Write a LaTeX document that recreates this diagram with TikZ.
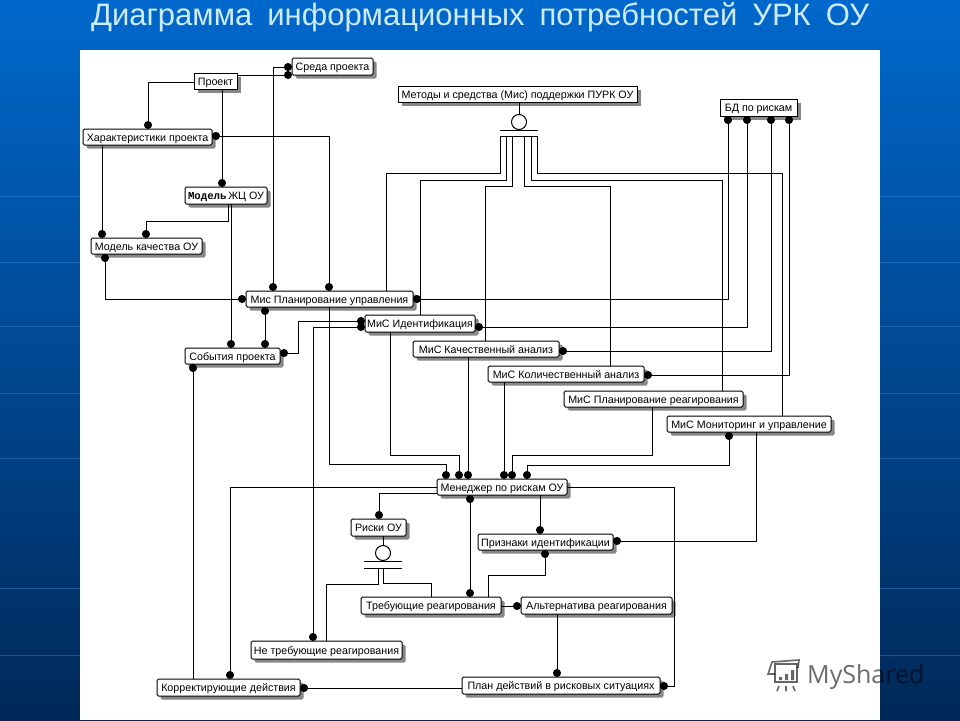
\documentclass[tikz,border=0pt]{standalone}
\usepackage{fontspec}
\setmainfont{Liberation Sans}
\newfontfamily\monofam{Liberation Mono}
\newfontfamily\logofam{Open Sans}
\usepackage{xcolor}
\usetikzlibrary{arrows.meta,shadows}
\definecolor{slidetop}{RGB}{0,104,204}
\definecolor{slidemid}{RGB}{0,78,158}
\definecolor{slidelow}{RGB}{0,40,88}
\definecolor{stripe}{RGB}{70,140,220}
\definecolor{titletext}{RGB}{205,235,250}
\definecolor{hatch}{RGB}{135,135,135}
\tikzset{
  entbox/.style={draw,fill=white,line width=1pt,inner sep=0pt,outer sep=0pt,
    text height=9pt,text depth=1pt,
    font=\fontsize{10.7}{12}\selectfont,
    general shadow={shadow xshift=3.5pt,shadow yshift=-3.5pt,fill=hatch}},
  roundbox/.style={entbox,rounded corners=1.5pt},
  rel/.style={line width=1pt},
  reldot/.style={rel,-{Circle[length=8pt]}},
  relboth/.style={rel,{Circle[length=8pt]}-{Circle[length=8pt]}},
  relbar/.style={line width=1pt},
  ringnode/.style={draw,circle,line width=1pt,fill=white,minimum size=15pt,inner sep=0pt,outer sep=0pt},
  stripeline/.style={stripe,line width=1pt,opacity=.4}
}
\begin{document}
\begin{tikzpicture}[x=1pt,y=-1pt]
  \useasboundingbox (0,0) rectangle (960,720);
  % slide
  \shade[top color=slidetop,middle color=slidemid,bottom color=slidelow] (0,0) rectangle (960,720);
  \foreach \ypos in {196,262,326,393,458,588,655} {
    \draw[stripeline] (0,\ypos) -- (80,\ypos);
    \draw[stripeline] (880,\ypos) -- (960,\ypos);
  }
  \fill[white] (80,50) rectangle (880,720);
  \node[anchor=base,inner sep=0pt,text=titletext,font=\fontsize{31}{34}\selectfont] (slidetitle) at (480,25) {\spaceskip=15pt Диаграмма информационных потребностей УРК ОУ};

  % entities
  \node[roundbox,minimum width=81,minimum height=17] (env) at (332.5,66.5) {Среда проекта};
  \node[entbox,minimum width=43,minimum height=16] (project) at (215.5,81) {Проект};
  \node[roundbox,minimum width=129,minimum height=16] (traits) at (147.5,137) {Характеристики проекта};
  \node[roundbox,minimum width=82,minimum height=17] (lifecycle) at (226,195.5) {{\monofam\bfseries Модель}\,ЖЦ ОУ};
  \node[roundbox,minimum width=111,minimum height=16] (quality) at (146.5,246) {Модель качества ОУ};
  \node[roundbox,minimum width=167,minimum height=16] (mplan) at (329.5,299) {Мис Планирование управления};
  \node[roundbox,minimum width=95,minimum height=16] (events) at (232.5,356) {События проекта};
  \node[roundbox,minimum width=110,minimum height=17] (mident) at (420,323.5) {МиС Идентификация};
  \node[entbox,minimum width=239,minimum height=16] (methods) at (517.5,94) {Методы и средства (Мис) поддержки ПУРК ОУ};
  \node[entbox,minimum width=77,minimum height=17] (riskdb) at (758.5,107.5) {БД по рискам};
  \node[roundbox,minimum width=146,minimum height=16] (mqual) at (486,349) {МиС Качественный анализ};
  \node[roundbox,minimum width=156,minimum height=16] (mquant) at (566,374) {МиС Количественный анализ};
  \node[roundbox,minimum width=179,minimum height=16] (mresp) at (653.5,399) {МиС Планирование реагирования};
  \node[roundbox,minimum width=164,minimum height=16] (mmon) at (749,424) {МиС Мониторинг и управление};
  \node[roundbox,minimum width=130,minimum height=16] (manager) at (502,487) {Менеджер по рискам ОУ};
  \node[roundbox,minimum width=55,minimum height=17] (risks) at (378.5,527.5) {Риски ОУ};
  \node[roundbox,minimum width=135,minimum height=16] (signs) at (545.5,542) {Признаки идентификации};
  \node[roundbox,minimum width=140,minimum height=17] (needresp) at (431,605.5) {Требующие реагирования};
  \node[roundbox,minimum width=151,minimum height=17] (altresp) at (596.5,605.5) {Альтернатива реагирования};
  \node[roundbox,minimum width=151,minimum height=18] (noresp) at (326.5,650) {Не требующие реагирования};
  \node[roundbox,minimum width=143,minimum height=17] (fixes) at (228.5,687.5) {Корректирующие действия};
  \node[roundbox,minimum width=198,minimum height=17] (plan) at (561,685.5) {План действий в рисковых ситуациях};

  % subtype rings
  \node[ringnode] (methring) at (519,122) {};
  \coordinate (methbar) at (519,136);
  \node[ringnode] (riskring) at (383,553) {};
  \coordinate (riskbar) at (383,568);
  \draw[rel] (methods.south -| methring.north) -- (methring.north);
  \draw[relbar] ([shift={(-19,-5.5)}]methbar) -- ([shift={(19,-5.5)}]methbar);
  \draw[relbar] ([xshift=-19]methbar) -- ([xshift=19]methbar);
  \draw[rel] (risks.south -| riskring.north) -- (riskring.north);
  \draw[relbar] ([shift={(-19,-7)}]riskbar) -- ([shift={(19,-7)}]riskbar);
  \draw[relbar] ([xshift=-19]riskbar) -- ([xshift=19]riskbar);

  % connectors, upper part
  \draw[reldot] (project.east |- 0,75) -- (env.west |- 0,75);
  \draw[reldot] (project.west |- 0,82) -| (traits.north -| 148,0);
  \draw[reldot] (project.south -| 222,0) -- (lifecycle.north -| 222,0);
  \draw[relboth] (traits.east |- 0,136) -| (mplan.north -| 329,0);
  \draw[reldot] (traits.south -| 102,0) -- (quality.north -| 102,0);
  \draw[reldot] (lifecycle.south -| 228,0) |- (146,221) -- (quality.north -| 146,0);
  \draw[reldot] (lifecycle.south -| 231,0) -- (events.north -| 231,0);
  \draw[relboth] (quality.south -| 105,0) |- (mplan.west |- 0,299);
  \draw[relboth] (mplan.south -| 265,0) -- (events.north -| 265,0);
  \draw[relboth] (mplan.north -| 273,0) |- (env.west |- 0,67);
  \draw[relboth] (events.east |- 0,353) -| (298,321) -- (mident.west |- 0,321);
  \draw[relboth] (mident.west |- 0,327) -| (noresp.north -| 313,0);
  \draw[rel,{Circle[length=8pt]}-] (events.south -| 193,0) -- (fixes.north -| 193,0);

  % connectors, subtypes of the methods
  \draw[rel] (methbar -| 500.5,0) |- (386,173) -- (mplan.north -| 386,0);
  \draw[rel] (methbar -| 506.5,0) |- (420,180) -- (mident.north -| 420,0);
  \draw[rel] (methbar -| 512.5,0) |- (485,186) -- (mqual.north -| 485,0);
  \draw[rel] (methbar -| 524.5,0) |- (610,186) -- (mquant.north -| 610,0);
  \draw[rel] (methbar -| 531.5,0) |- (722,180) -- (mresp.north -| 722,0);
  \draw[rel] (methbar -| 537.5,0) |- (782,173) -- (mmon.north -| 782,0);

  % connectors, risk database
  \draw[relboth] (riskdb.south -| 728,0) |- (mplan.east |- 0,299);
  \draw[relboth] (riskdb.south -| 747,0) |- (mident.east |- 0,327);
  \draw[relboth] (riskdb.south -| 771,0) |- (mqual.east |- 0,351);
  \draw[relboth] (riskdb.south -| 789,0) |- (mquant.east |- 0,375);

  % connectors to the manager
  \draw[reldot] (mplan.south -| 329,0) |- (446,464) -- (manager.north -| 446,0);
  \draw[reldot] (mident.south -| 390,0) |- (459,455) -- (manager.north -| 459,0);
  \draw[reldot] (mqual.south -| 468,0) -- (manager.north -| 468,0);
  \draw[reldot] (mquant.south -| 504,0) -- (manager.north -| 504,0);
  \draw[reldot] (mresp.south -| 652,0) |- (512,455) -- (manager.north -| 512,0);
  \draw[relboth] (mmon.south -| 729,0) |- (527,465) -- (manager.north -| 527,0);
  \draw[reldot] (mmon.south -| 756,0) |- (signs.east |- 0,541);

  % connectors, lower part
  \draw[reldot] (manager.west |- 0,487) -| (fixes.north -| 230,0);
  \draw[reldot] (manager.west |- 0,493) -| (risks.north -| 379,0);
  \draw[relboth] (manager.south -| 470,0) -- (needresp.north -| 470,0);
  \draw[reldot] (manager.south -| 540,0) -- (signs.north -| 540,0);
  \draw[reldot] (manager.east |- 0,487) -| (674,686) -- (plan.east |- 0,686);
  \draw[reldot] (needresp.north -| 488,0) |- (545,575) -- (signs.south -| 545,0);
  \draw[reldot] (needresp.east |- 0,606) -- (altresp.west |- 0,606);
  \draw[reldot] (altresp.south -| 557,0) -- (plan.north -| 557,0);
  \draw[reldot] (plan.west |- 0,688) -- (fixes.east |- 0,688);
  \draw[rel] (riskbar -| 378,0) |- (326,584) -- (noresp.north -| 326,0);
  \draw[rel] (riskbar -| 383.5,0) |- (431,583) -- (needresp.north -| 431,0);

  % watermark
  \node[anchor=base west,inner sep=0pt,text=black,opacity=.58,font=\logofam\fontsize{25}{28}\selectfont] (logotext) at (807,683) {MyShared};
  \begin{scope}[black,opacity=.6,line width=1.6pt]
    \draw (772,662) -- (799,660) -- (798,668) (772,662) -- (768,674) -- (775,674);
    \draw (775,664) rectangle (797,682);
    \draw (779,686) -- (777,691) (786,686) -- (786,691) (793,686) -- (795,691);
    \fill (779,677) rectangle (782,680) (785,674) rectangle (788,680) (791,670) rectangle (794,680);
  \end{scope}
\end{tikzpicture}
\end{document}
